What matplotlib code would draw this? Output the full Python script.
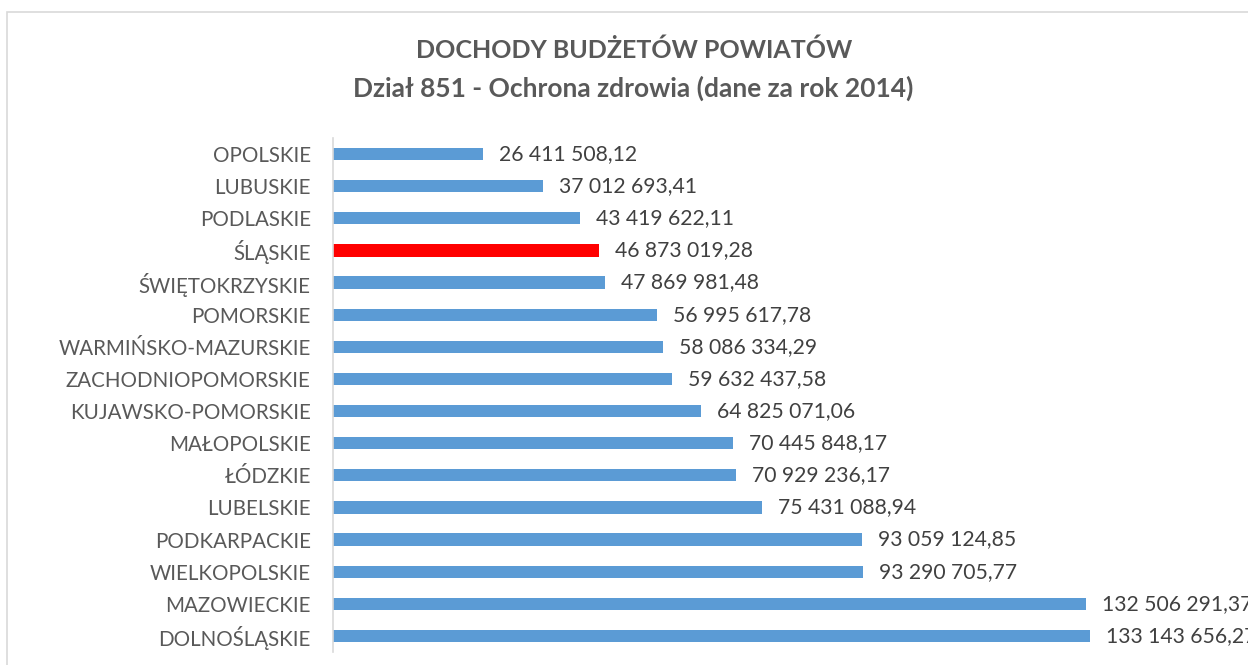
import matplotlib.pyplot as plt
from matplotlib.patches import Rectangle

# data (top to bottom, as in the chart)
regions = ["OPOLSKIE", "LUBUSKIE", "PODLASKIE", "ŚLĄSKIE", "ŚWIĘTOKRZYSKIE", "POMORSKIE",
           "WARMIŃSKO-MAZURSKIE", "ZACHODNIOPOMORSKIE", "KUJAWSKO-POMORSKIE", "MAŁOPOLSKIE",
           "ŁÓDZKIE", "LUBELSKIE", "PODKARPACKIE", "WIELKOPOLSKIE", "MAZOWIECKIE", "DOLNOŚLĄSKIE"]
values = [26411508.12, 37012693.41, 43419622.11, 46873019.28, 47869981.48, 56995617.78,
          58086334.29, 59632437.58, 64825071.06, 70445848.17,
          70929236.17, 75431088.94, 93059124.85, 93290705.77, 132506291.37, 133143656.27]
highlight = "ŚLĄSKIE"

plt.rcParams['font.family'] = ['Lato', 'DejaVu Sans']

W, H = 1248, 665
fig = plt.figure(figsize=(W / 100, H / 100), dpi=100)

# chart border (only top/left visible in the crop)
fig.add_artist(Rectangle((7 / W, -0.1), 2, (H - 12) / H + 0.1, transform=fig.transFigure,
                         fill=False, edgecolor='#d9d9d9', linewidth=1.2))

ax = fig.add_axes([333 / W, (H - 652) / H, (W - 333) / W, 514 / H])
px_per_unit = 756.5 / 133143656.27
ax.set_xlim(0, (W - 333) / px_per_unit)
ax.set_ylim(len(regions) - 0.5, -0.5)

colors = ['#FF0000' if r == highlight else '#5B9BD5' for r in regions]
ax.barh(range(len(regions)), values, height=0.38, color=colors)

for i, v in enumerate(values):
    txt = f"{v:,.2f}".replace(",", " ").replace(".", ",")
    ax.annotate(txt, (v, i), xytext=(16, 0), textcoords='offset pixels',
                va='center', ha='left', fontsize=15.2, color='#404040', annotation_clip=False)

ax.set_yticks(range(len(regions)))
ax.set_yticklabels(regions, fontsize=14.8, color='#595959')
ax.tick_params(axis='y', length=0, pad=16)
ax.set_xticks([])
for s in ['top', 'right', 'bottom']:
    ax.spines[s].set_visible(False)
ax.spines['left'].set_color('#d9d9d9')
ax.spines['left'].set_linewidth(1.2)

fig.text(634 / W, 1 - 50 / H, "DOCHODY BUDŻETÓW POWIATÓW", ha='center', va='center',
         fontsize=18, fontweight='bold', color='#595959')
fig.text(633 / W, 1 - 88 / H, "Dział 851 - Ochrona zdrowia (dane za rok 2014)", ha='center',
         va='center', fontsize=19, fontweight='bold', color='#595959')

fig.savefig('out.png', dpi=100)
